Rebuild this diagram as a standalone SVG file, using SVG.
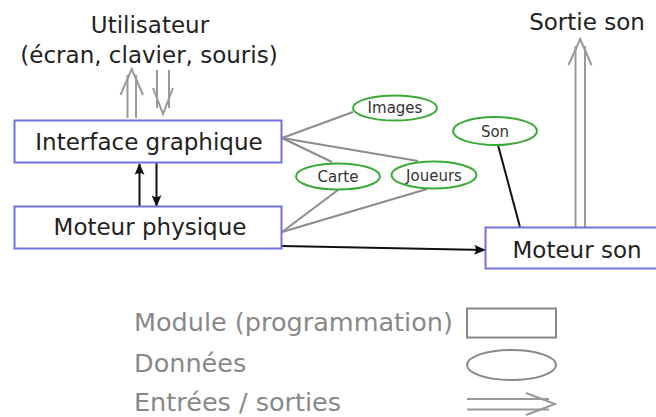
<svg xmlns="http://www.w3.org/2000/svg" width="656" height="417" viewBox="0 0 656 417">
<defs>
<style>
.mod{fill:#fff;stroke:#7070e0;stroke-width:2}
.dat{fill:#fff;stroke:#3aaa35;stroke-width:2}
.t{font-family:"DejaVu Sans",sans-serif;fill:#222}
.big{font-size:23px}
.small{font-size:15px;fill:#333}
.leg{font-family:"DejaVu Sans",sans-serif;font-size:25.5px;fill:#888}
.io{fill:none;stroke:#999;stroke-width:2}
.gl{fill:none;stroke:#8c8c8c;stroke-width:2}
.bl{fill:none;stroke:#111;stroke-width:2}
</style>
<marker id="ah" viewBox="0 0 12 10" refX="11" refY="5" markerWidth="12" markerHeight="10" markerUnits="userSpaceOnUse" orient="auto">
<path d="M0,0 Q4,5 0,10 L12,5 Z" fill="#111"/>
</marker>
</defs>
<g id="connectors">
<line class="gl" x1="282" y1="138" x2="353" y2="112"/>
<line class="gl" x1="282" y1="138" x2="332" y2="162"/>
<line class="gl" x1="282" y1="138" x2="418" y2="161"/>
<line class="gl" x1="282" y1="232" x2="338" y2="190"/>
<line class="gl" x1="282" y1="232" x2="427" y2="189"/>
<line class="bl" x1="498" y1="145" x2="520" y2="227"/>
<line class="bl" x1="282" y1="246" x2="485" y2="250" marker-end="url(#ah)"/>
<line class="bl" x1="139.5" y1="206" x2="139.5" y2="164" marker-end="url(#ah)"/>
<line class="bl" x1="156.5" y1="163" x2="156.5" y2="206" marker-end="url(#ah)"/>
<g id="io-user-up"><line class="io" x1="127.5" y1="118" x2="127.5" y2="75"/><line class="io" x1="136" y1="118" x2="136" y2="75"/><polyline class="io" points="120.5,95 131.7,69 143,95"/></g>
<g id="io-user-down"><line class="io" x1="157" y1="70" x2="157" y2="108"/><line class="io" x1="169" y1="70" x2="169" y2="108"/><polyline class="io" points="153,88 163,114 173,88"/></g>
<g id="io-sound"><line class="io" x1="575.5" y1="227" x2="575.5" y2="46"/><line class="io" x1="585" y1="227" x2="585" y2="46"/><polyline class="io" points="568.5,65 580.2,39 591.5,65"/></g>
</g>
<g id="utilisateur">
<text class="t big" x="150" y="33" text-anchor="middle">Utilisateur</text>
<text class="t big" x="149" y="63" text-anchor="middle">(écran, clavier, souris)</text>
</g>
<g id="sortie-son"><text class="t big" x="587" y="30" text-anchor="middle">Sortie son</text></g>
<g id="interface-graphique">
<rect class="mod" x="14.5" y="120.5" width="267" height="42"/>
<text class="t big" x="149" y="150" text-anchor="middle">Interface graphique</text>
</g>
<g id="moteur-physique">
<rect class="mod" x="14.5" y="206.5" width="267" height="42"/>
<text class="t big" x="150" y="235" text-anchor="middle">Moteur physique</text>
</g>
<g id="moteur-son">
<rect class="mod" x="485.5" y="227.5" width="180" height="41"/>
<text class="t big" x="577" y="258" text-anchor="middle">Moteur son</text>
</g>
<g id="images">
<ellipse class="dat" cx="395" cy="108" rx="42" ry="12.5"/>
<text class="t small" x="395" y="113" text-anchor="middle">Images</text>
</g>
<g id="carte">
<ellipse class="dat" cx="338" cy="176.5" rx="42" ry="13"/>
<text class="t small" x="338" y="182" text-anchor="middle">Carte</text>
</g>
<g id="joueurs">
<ellipse class="dat" cx="434" cy="175" rx="42.5" ry="13.5"/>
<text class="t small" x="434" y="180.5" text-anchor="middle">Joueurs</text>
</g>
<g id="son">
<ellipse class="dat" cx="495" cy="131" rx="42" ry="14"/>
<text class="t small" x="495" y="136.5" text-anchor="middle">Son</text>
</g>
<g id="legend">
<text class="leg" x="134" y="331">Module (programmation)</text>
<rect x="467" y="308.5" width="89" height="29" fill="#fff" stroke="#888" stroke-width="2"/>
<text class="leg" x="134" y="372">Données</text>
<ellipse cx="511.5" cy="365" rx="44.5" ry="15" fill="#fff" stroke="#888" stroke-width="2"/>
<text class="leg" x="134" y="411">Entrées / sorties</text>
<line class="io" x1="467" y1="399" x2="549" y2="399"/>
<line class="io" x1="467" y1="409.5" x2="549" y2="409.5"/>
<polyline class="io" points="526,393 555,404 526,415"/>
</g>
</svg>
